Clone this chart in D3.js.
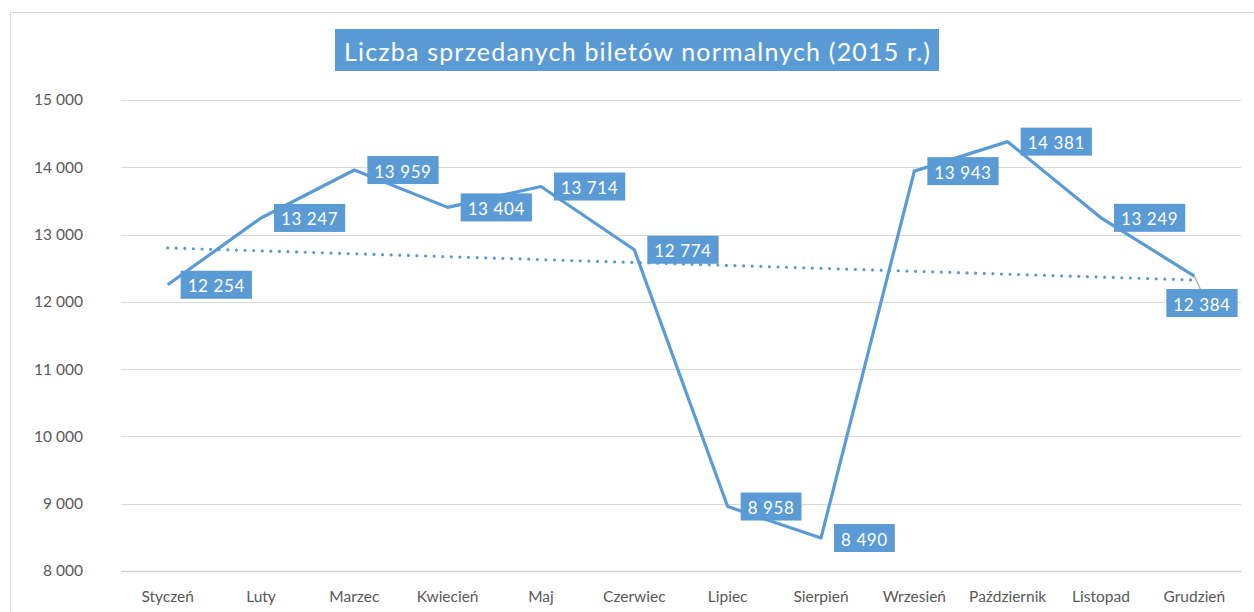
<!DOCTYPE html>
<html><head><meta charset="utf-8">
<script src="https://cdn.jsdelivr.net/npm/d3@7"></script>
<style>body{margin:0;background:#fff}svg{display:block}text{font-family:Lato,"Open Sans",sans-serif}</style>
</head><body><svg id="c" width="1254" height="612"></svg>
<script>
const title = "Liczba sprzedanych biletów normalnych (2015 r.)";
const months = ["Styczeń","Luty","Marzec","Kwiecień","Maj","Czerwiec","Lipiec","Sierpień","Wrzesień","Październik","Listopad","Grudzień"];
const values = [12254,13247,13959,13404,13714,12774,8958,8490,13943,14381,13249,12384];
const yTicks = [8000,9000,10000,11000,12000,13000,14000,15000];

const svg = d3.select("#c");
const blue = "#5B9BD5";
const fmt = v => d3.format(",")(v).replace(/,/g, " ");

svg.append("rect").attr("x",10.5).attr("y",12.5).attr("width",1300).attr("height",700)
  .attr("fill","#fff").attr("stroke","#D9D9D9");

const x = d3.scaleBand().domain(months).range([121,1241]);
const y = d3.scaleLinear().domain([8000,15000]).range([571,100]);
const cx = m => x(m) + x.bandwidth()/2;

// gridlines
svg.append("g").selectAll("line").data(yTicks.filter(t=>t>8000)).join("line")
  .attr("x1",121).attr("x2",1241).attr("y1",d=>Math.round(y(d))+0.5).attr("y2",d=>Math.round(y(d))+0.5)
  .attr("stroke","#D9D9D9").attr("stroke-width",1.2);

// y axis labels
const yAxis = d3.axisLeft(y).tickValues(yTicks).tickFormat(fmt).tickSize(0).tickPadding(0);
const yg = svg.append("g").attr("transform","translate(83,0)").call(yAxis);
yg.select(".domain").remove();
yg.selectAll("text").attr("font-size",15.5).attr("fill","#595959").attr("font-family","Lato,sans-serif");

// x axis
const xAxis = d3.axisBottom(x).tickSize(0).tickPadding(0);
const xg = svg.append("g").attr("transform","translate(0,571)").call(xAxis);
xg.select(".domain").attr("stroke","#D0D0D0").attr("stroke-width",1.5);
xg.selectAll("text").attr("font-size",15.5).attr("fill","#595959").attr("dy",0).attr("y",31)
  .attr("font-family","Lato,sans-serif");

// trend line (linear regression)
const n = values.length;
const xs = d3.range(1,n+1);
const mx = d3.mean(xs), my = d3.mean(values);
const slope = d3.sum(xs.map((xi,i)=>(xi-mx)*(values[i]-my))) / d3.sum(xs.map(xi=>(xi-mx)**2));
const icpt = my - slope*mx;
svg.append("line")
  .attr("x1",cx(months[0])).attr("y1",y(icpt+slope*1))
  .attr("x2",cx(months[n-1])).attr("y2",y(icpt+slope*n))
  .attr("stroke",blue).attr("stroke-width",3.2).attr("stroke-linecap","round")
  .attr("stroke-dasharray","0 8.6");

// data line
const line = d3.line().x((d,i)=>cx(months[i])).y(d=>y(d));
svg.append("path").datum(values).attr("d",line).attr("fill","none")
  .attr("stroke",blue).attr("stroke-width",3.2).attr("stroke-linejoin","round");

// data labels
const lg = svg.append("g");
values.forEach((v,i)=>{
  const px = cx(months[i]), py = y(v);
  const g = lg.append("g");
  const t = g.append("text").text(fmt(v)).attr("font-size",17).attr("fill","#fff")
    .attr("dominant-baseline","central").attr("letter-spacing",0.6);
  const w = t.node().getComputedTextLength();
  const bw = w + 14, bh = 28;
  let bx = px + 13, by = py - bh/2;
  if (i === n-1) { // repositioned label with leader line
    bx = px - 28; by = py + 13;
    g.append("line").attr("x1",px).attr("y1",py).attr("x2",px+6).attr("y2",by)
      .attr("stroke","#A6A6A6").attr("stroke-width",1.2);
  }
  g.insert("rect","text").attr("x",bx).attr("y",by).attr("width",bw).attr("height",bh).attr("fill",blue);
  t.attr("x",bx+7).attr("y",by+bh/2+1);
});

// title
const tg = svg.append("g");
const tw = 586;
const tt = tg.append("text").text(title).attr("x",637 - tw/2).attr("y",51)
  .attr("dominant-baseline","central").attr("font-size",25).attr("fill","#fff")
  .attr("textLength",tw).attr("lengthAdjust","spacing");
tg.insert("rect","text").attr("x",637 - tw/2 - 9).attr("y",29).attr("width",tw+18).attr("height",42).attr("fill",blue);
</script></body></html>
